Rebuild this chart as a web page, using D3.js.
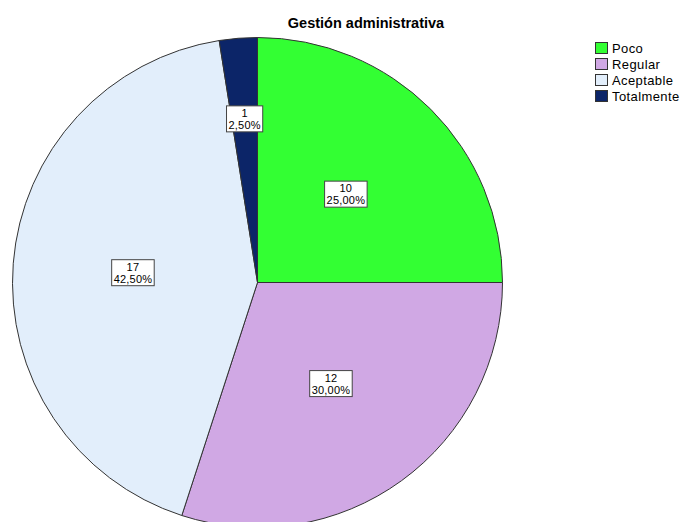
<!DOCTYPE html>
<html>
<head>
<meta charset="utf-8">
<script src="https://cdn.jsdelivr.net/npm/d3@7"></script>
<style>
  body { margin: 0; background: #fff; }
  text { font-family: Arial, "Liberation Sans", sans-serif; }
</style>
</head>
<body>
<div id="chart"></div>
<script>
const categories = ["Poco", "Regular", "Aceptable", "Totalmente"];
const counts = [10, 12, 17, 1];
const percents = ["25,00%", "30,00%", "42,50%", "2,50%"];
const colors = ["#33ff33", "#d0a8e4", "#e2eefb", "#0c2568"];
const title = "Gestión administrativa";

const width = 681, height = 522;
const cx = 257.5, cy = 282.5, radius = 245;

const svg = d3.select("#chart")
    .append("svg")
    .attr("width", width)
    .attr("height", height);

svg.append("text")
    .attr("x", 366)
    .attr("y", 28)
    .attr("text-anchor", "middle")
    .attr("font-size", 14.5)
    .attr("font-weight", "bold")
    .attr("fill", "#000")
    .text(title);

const data = categories.map((c, i) => ({ name: c, value: counts[i], pct: percents[i], color: colors[i] }));

const pie = d3.pie()
    .sort(null)
    .value(d => d.value);

const arc = d3.arc()
    .innerRadius(0)
    .outerRadius(radius);

const g = svg.append("g")
    .attr("transform", `translate(${cx},${cy})`);

const arcs = pie(data);

g.selectAll("path")
    .data(arcs)
    .enter().append("path")
    .attr("d", arc)
    .attr("fill", d => d.data.color)
    .attr("stroke", "#333")
    .attr("stroke-width", 1);

// labels: boxed count + percent
const labels = g.selectAll(".label")
    .data(arcs)
    .enter().append("g")
    .attr("class", "label")
    .attr("transform", d => {
        const share = (d.endAngle - d.startAngle) / (2 * Math.PI);
        // tiny slices get pushed out a bit so the box stays readable
        const r = share < 0.05 ? radius * 0.67 : radius * 0.51;
        const a = (d.startAngle + d.endAngle) / 2;
        return `translate(${r * Math.sin(a)},${-r * Math.cos(a)})`;
    });

labels.each(function (d) {
    const sel = d3.select(this);
    const t = sel.append("text")
        .attr("text-anchor", "middle")
        .attr("font-size", 11)
        .attr("letter-spacing", 0.2)
        .attr("fill", "#000");
    t.append("tspan").attr("x", 0).attr("y", -2).text(d.data.value);
    t.append("tspan").attr("x", 0).attr("y", 10).text(d.data.pct);
    const bb = t.node().getBBox();
    sel.insert("rect", "text")
        .attr("x", bb.x - 2)
        .attr("y", bb.y - 1)
        .attr("width", bb.width + 4)
        .attr("height", bb.height + 2)
        .attr("fill", "#fff")
        .attr("stroke", "#444")
        .attr("stroke-width", 1);
});

// legend
const legend = svg.append("g")
    .attr("transform", "translate(595,42)");

const items = legend.selectAll("g")
    .data(data)
    .enter().append("g")
    .attr("transform", (d, i) => `translate(0,${i * 16})`);

items.append("rect")
    .attr("x", 0.5)
    .attr("y", 0.5)
    .attr("width", 12)
    .attr("height", 11)
    .attr("fill", d => d.color)
    .attr("stroke", "#333")
    .attr("stroke-width", 1);

items.append("text")
    .attr("x", 17)
    .attr("y", 10.5)
    .attr("font-size", 13)
    .attr("letter-spacing", 0.4)
    .attr("fill", "#000")
    .text(d => d.name);
</script>
</body>
</html>
